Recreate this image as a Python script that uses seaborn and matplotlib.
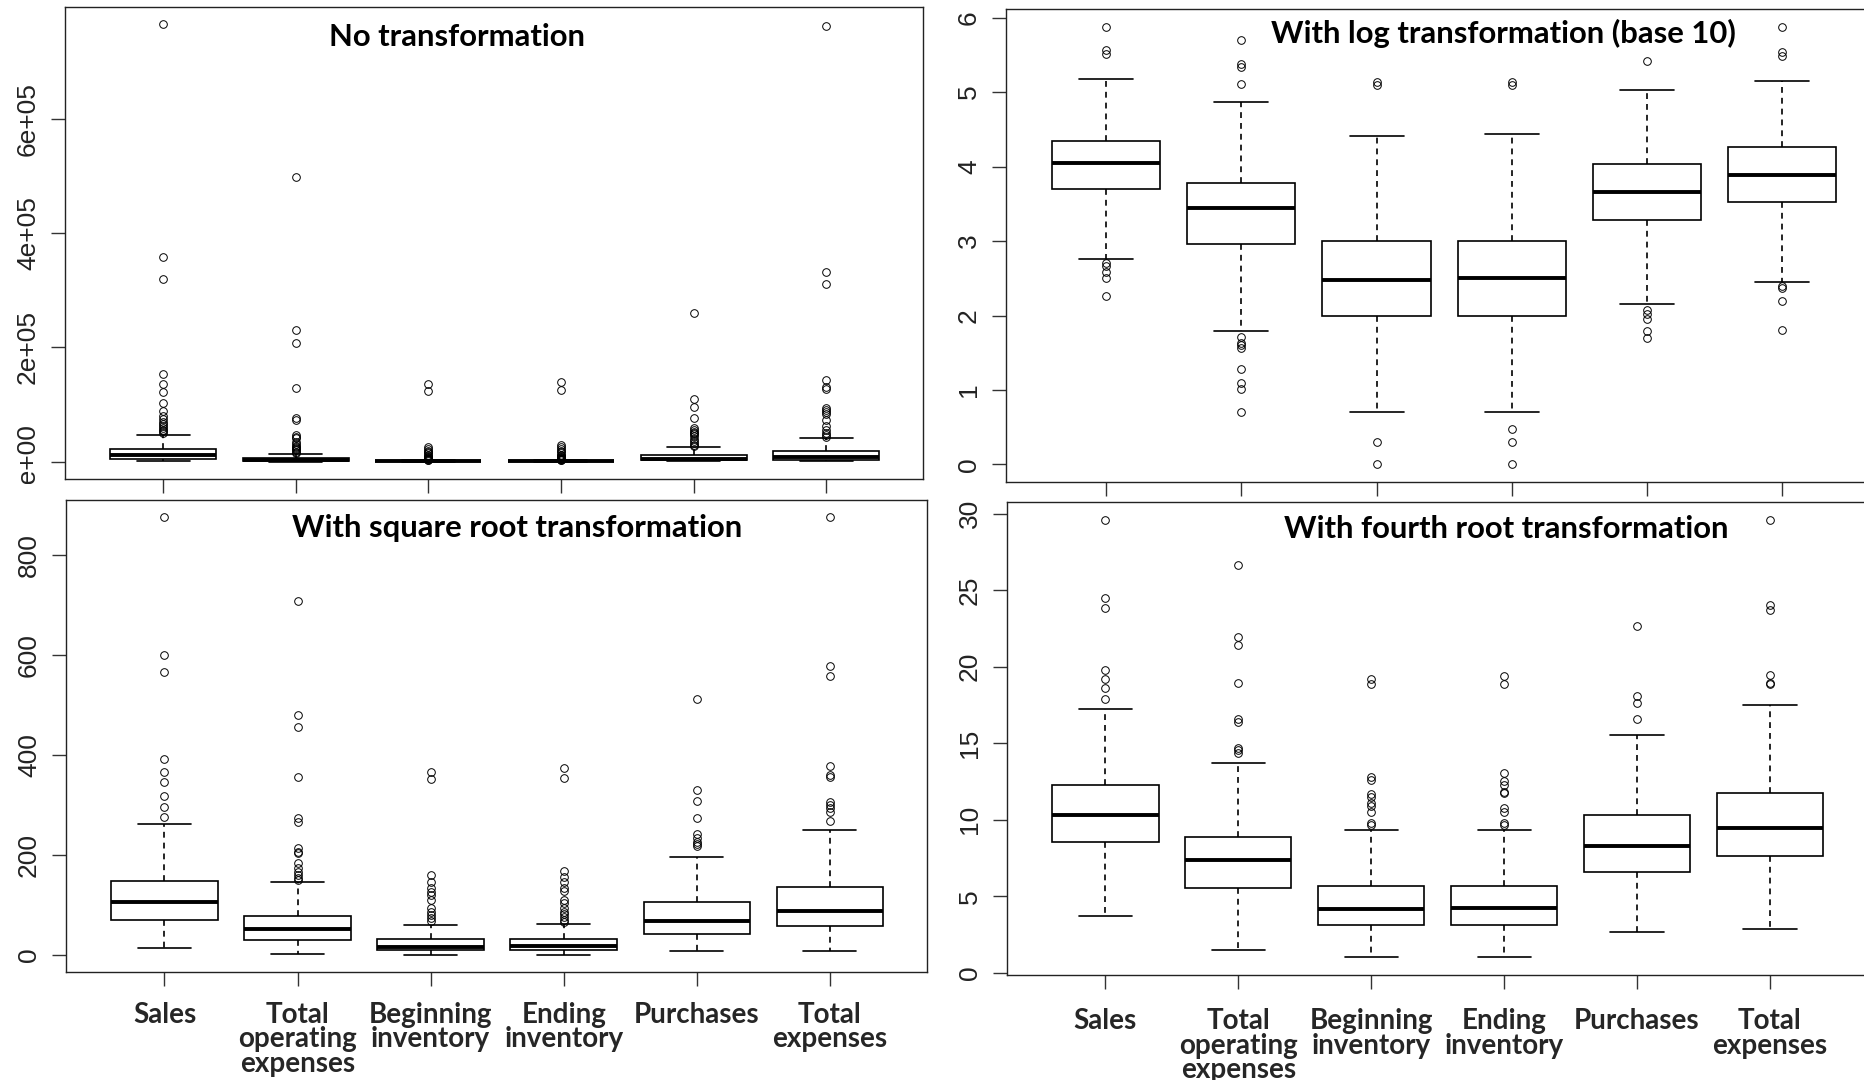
import numpy as np
import pandas as pd
import matplotlib
matplotlib.use("Agg")
import matplotlib.pyplot as plt
from matplotlib.transforms import Bbox, TransformedBbox
import seaborn as sns

sns.set_style("white")
plt.rcParams['font.family'] = ['Liberation Sans', 'DejaVu Sans']

variables = ["Sales", "Total\noperating\nexpenses", "Beginning\ninventory",
             "Ending\ninventory", "Purchases", "Total\nexpenses"]

# No transformation: quartiles, whisker ends and outliers
raw_q1 = [5000, 960, 100, 100, 1900, 3400]
raw_med = [11300, 2900, 290, 310, 4600, 7900]
raw_q3 = [22000, 6100, 1024, 1024, 11200, 19000]
raw_lo = [180, 5, 1, 1, 52, 66]
raw_hi = [47000, 13000, 2300, 2300, 25000, 41500]
raw_out = [
    [766000, 359000, 320000, 154000, 135000, 121000, 102000, 88500, 79000,
     74000, 70000, 66000, 62500, 59000, 56000, 53000, 50000],
    [499000, 231000, 207500, 128000, 75500, 72000, 46000, 43000, 41500,
     34000, 30500, 28000, 25800, 23700, 22700, 20000, 17500, 15500],
    [135500, 124000, 25800, 21700, 18000, 16200, 14600, 12300, 8800, 7600,
     6500, 5500, 4700, 3700, 3000, 2600],
    [140000, 125000, 28500, 24700, 21700, 18000, 16500, 12300, 10800, 8800,
     7600, 6700, 6000, 5000, 4400, 3900, 3000, 2600],
    [261000, 109500, 95300, 76500, 58500, 54800, 51700, 49300, 48100, 44000,
     40000, 36000, 32000, 29000, 27000],
    [764000, 332000, 310500, 143000, 130000, 127500, 94500, 90500, 86500,
     82500, 72500, 63000, 55000, 50000, 46000, 43000],
]

# log10 transformation
log_q1 = [3.70, 2.96, 2.00, 2.00, 3.28, 3.525]
log_med = [4.05, 3.45, 2.475, 2.50, 3.655, 3.88]
log_q3 = [4.345, 3.775, 3.00, 3.00, 4.04, 4.265]
log_lo = [2.76, 1.79, 0.70, 0.70, 2.15, 2.45]
log_hi = [5.17, 4.86, 4.41, 4.44, 5.03, 5.15]
log_out = [
    [5.88, 5.57, 5.51, 2.71, 2.66, 2.59, 2.50, 2.26],
    [5.70, 5.38, 5.34, 5.11, 1.71, 1.63, 1.60, 1.57, 1.28, 1.09, 1.02, 0.70],
    [5.13, 5.10, 0.30, 0.0],
    [5.14, 5.10, 0.48, 0.30, 0.0],
    [5.42, 2.08, 2.02, 1.95, 1.79, 1.70],
    [5.88, 5.54, 5.49, 2.40, 2.37, 2.19, 1.81],
]

# square root transformation
sqrt_q1 = [70, 31, 10, 10, 43, 58.5]
sqrt_med = [106, 52, 17, 17.5, 68, 88]
sqrt_q3 = [148, 78, 32, 32, 106, 136]
sqrt_lo = [13.5, 2.2, 1.0, 1.0, 7.2, 8.1]
sqrt_hi = [263, 146, 60.7, 62.7, 196, 250.7]
sqrt_out = [
    [875, 599, 565, 392, 367, 347, 319, 297, 276],
    [708, 480, 455, 357, 275, 267, 214, 207, 204, 184, 174, 167, 161, 154, 150.7],
    [367, 352, 161, 147, 134, 127, 121, 111, 94, 87, 81, 74, 68.7],
    [374, 354, 169, 157, 147, 134, 129, 111, 104, 94, 87, 82, 77, 71, 66],
    [511, 330, 309, 275, 242, 234, 227, 222, 219],
    [875, 577, 557, 379, 361, 357, 307, 301, 294, 287, 269],
]

# fourth root transformation
four_q1 = [8.55, 5.57, 3.13, 3.13, 6.61, 7.66]
four_med = [10.31, 7.38, 4.18, 4.22, 8.25, 9.44]
four_q3 = [12.25, 8.85, 5.70, 5.70, 10.31, 11.77]
four_lo = [3.68, 1.48, 1.0, 1.0, 2.68, 2.85]
four_hi = [17.21, 13.69, 9.33, 9.33, 15.54, 17.49]
four_out = [
    [29.61, 24.5, 23.8, 19.8, 19.19, 18.62, 17.86],
    [26.63, 21.95, 21.41, 18.91, 16.58, 16.41, 14.71, 14.56, 14.34],
    [19.19, 18.84, 12.82, 12.6, 11.68, 11.51, 11.07, 10.92, 10.53, 9.77, 9.66],
    [19.39, 18.84, 13.08, 12.53, 12.27, 11.84, 11.73, 10.75, 10.53, 9.77, 9.66],
    [22.63, 18.1, 17.6, 16.6],
    [29.61, 24.02, 23.67, 19.45, 18.91, 18.84],
]


def box_frame(q1, med, q3, lo, hi, outliers, k=60):
    rows = []
    for name, a, m, b, w0, w1, out in zip(variables, q1, med, q3, lo, hi, outliers):
        vals = list(out) + [w0] + [a] * k + [m] * k + [b] * k + [w1]
        rows += [(name, v) for v in vals]
    return pd.DataFrame(rows, columns=["variable", "value"])


W, H = 1865, 1080
fig = plt.figure(figsize=(W / 100, H / 100), dpi=100)


def px_axes(left, top, right, bottom):
    return fig.add_axes([left / W, 1 - bottom / H, (right - left) / W, (bottom - top) / H])


label_font = "Lato"


def draw_panel(ax, df, ticks, ticklabels, show_x, xpad=8):
    sns.boxplot(data=df, x="variable", y="value", order=variables, ax=ax,
                width=0.8, color="white", linecolor="black", linewidth=1.2,
                whis=1.5, fliersize=5.5,
                flierprops=dict(marker="o", markerfacecolor="none",
                                markeredgecolor="black", markeredgewidth=0.7),
                medianprops=dict(linewidth=2.8, color="black"),
                whiskerprops=dict(linestyle=(0, (3.5, 3))))
    vals = df["value"]
    pad = 0.04 * (vals.max() - vals.min())
    ax.set_ylim(vals.min() - pad, vals.max() + pad)
    ax.set_xlim(-0.74, 5.73)
    ax.set_xlabel("")
    ax.set_ylabel("")
    for s in ax.spines.values():
        s.set_visible(True)
        s.set_color("#222222")
        s.set_linewidth(1.0)
    ax.set_yticks(ticks)
    ax.set_yticklabels(ticklabels, rotation=90, va="center", ha="right",
                       fontsize=19, color="#222222")
    ax.tick_params(axis="both", direction="out", length=10, width=1.0,
                   color="#333333", left=True, bottom=True)
    ax.tick_params(axis="y", pad=8)
    ax.set_xticks(range(len(variables)))
    if show_x:
        ax.set_xticklabels(variables, fontsize=20, fontweight="bold",
                           family=label_font, linespacing=0.92)
        ax.tick_params(axis="x", pad=xpad)
    else:
        ax.set_xticklabels([])


ax_raw = px_axes(65, 7, 923, 479)
draw_panel(ax_raw, box_frame(raw_q1, raw_med, raw_q3, raw_lo, raw_hi, raw_out),
           [0, 2e5, 4e5, 6e5], ["0e+00", "2e+05", "4e+05", "6e+05"], False)

ax_log = px_axes(1006, 9, 1881, 482)
draw_panel(ax_log, box_frame(log_q1, log_med, log_q3, log_lo, log_hi, log_out),
           range(0, 7), [str(v) for v in range(0, 7)], False)

ax_sqrt = px_axes(66, 500, 927, 972)
draw_panel(ax_sqrt, box_frame(sqrt_q1, sqrt_med, sqrt_q3, sqrt_lo, sqrt_hi, sqrt_out),
           range(0, 801, 200), [str(v) for v in range(0, 801, 200)], True, xpad=11.5)

ax_four = px_axes(1007, 502, 1867, 975)
draw_panel(ax_four, box_frame(four_q1, four_med, four_q3, four_lo, four_hi, four_out),
           range(0, 31, 5), [str(v) for v in range(0, 31, 5)], True, xpad=14)

# the bottom of the first label is cut off by the panel below in the original
clip = TransformedBbox(Bbox([[0, 1 - 484 / H], [0.5, 1]]), fig.transFigure)
zero_label = ax_raw.yaxis.get_major_ticks()[0].label1
zero_label.set_clip_box(clip)
zero_label.set_clip_on(True)

titles = [("No transformation", 457, 37),
          ("With log transformation (base 10)", 1503, 33),
          ("With square root transformation", 517, 528),
          ("With fourth root transformation", 1506, 529)]
for text, x, y in titles:
    fig.text(x / W, 1 - y / H, text, ha="center", va="center", fontsize=22.3,
             fontweight="bold", family=label_font, color="black")

fig.savefig("out.png", dpi=100)
